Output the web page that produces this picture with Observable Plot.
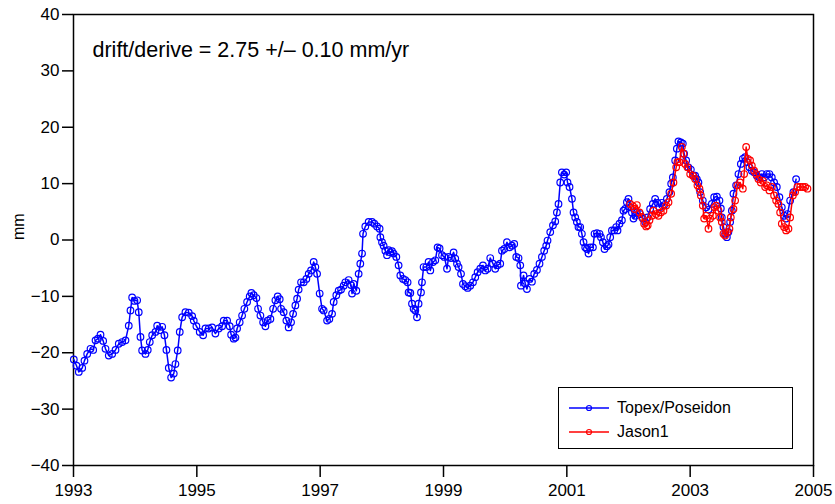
<!DOCTYPE html>
<html><head><meta charset="utf-8">
<script src="https://cdn.jsdelivr.net/npm/d3@7"></script>
<script src="https://cdn.jsdelivr.net/npm/@observablehq/plot@0.6"></script>
<style>
body{margin:0;background:#fff;font-family:"Liberation Sans",Arial,sans-serif;}
#wrap{position:relative;width:835px;height:504px;}
#legend{position:absolute;left:558px;top:387px;width:233px;height:60px;border:1.5px solid #000;background:#fff;font-size:16px;font-family:"Liberation Sans",Arial,sans-serif;}
#legend .row{position:absolute;left:10px;height:20px;display:flex;align-items:center;}
#legend svg{margin-right:8px;}
</style></head><body><div id="wrap"></div>
<script>
const annotation = "drift/derive = 2.75 +/\u2013 0.10 mm/yr";
const seriesNames = ["Topex/Poseidon", "Jason1"];
const seriesColors = ["#0000ff", "#ff0000"];
const xTicks = [1993, 1995, 1997, 1999, 2001, 2003, 2005];
const yTicks = [-40, -30, -20, -10, 0, 10, 20, 30, 40];

const topexYear = [
1993.005,1993.049,1993.086,1993.141,1993.178,1993.222,1993.276,1993.319,1993.357,1993.397,
1993.438,1993.481,1993.519,1993.572,1993.627,1993.681,1993.734,1993.789,1993.843,1993.896,
1993.924,1993.951,1993.989,1994.032,1994.058,1994.086,1994.113,1994.167,1994.204,1994.237,
1994.276,1994.329,1994.357,1994.399,1994.438,1994.475,1994.507,1994.545,1994.583,1994.626,
1994.653,1994.690,1994.723,1994.762,1994.815,1994.869,1994.924,1994.950,1994.993,1995.047,
1995.102,1995.139,1995.193,1995.248,1995.301,1995.355,1995.410,1995.436,1995.491,1995.533,
1995.556,1995.598,1995.626,1995.653,1995.695,1995.734,1995.771,1995.815,1995.857,1995.885,
1995.922,1995.966,1995.993,1996.031,1996.075,1996.112,1996.149,1996.193,1996.237,1996.274,
1996.311,1996.344,1996.366,1996.408,1996.452,1996.489,1996.528,1996.561,1996.598,1996.626,
1996.651,1996.690,1996.733,1996.776,1996.814,1996.852,1996.895,1996.922,1996.950,1996.992,
1997.031,1997.057,1997.112,1997.149,1997.193,1997.219,1997.262,1997.300,1997.339,1997.381,
1997.408,1997.462,1997.501,1997.517,1997.543,1997.587,1997.624,1997.651,1997.679,1997.695,
1997.732,1997.786,1997.841,1997.878,1997.922,1997.964,1997.976,1998.003,1998.029,1998.057,
1998.084,1998.110,1998.138,1998.165,1998.191,1998.235,1998.272,1998.300,1998.344,1998.381,
1998.418,1998.434,1998.462,1998.489,1998.515,1998.543,1998.570,1998.596,1998.635,1998.651,
1998.677,1998.721,1998.758,1998.786,1998.830,1998.867,1998.904,1998.937,1998.976,1999.013,
1999.057,1999.083,1999.121,1999.164,1999.191,1999.219,1999.245,1999.284,1999.316,1999.353,
1999.391,1999.434,1999.478,1999.515,1999.553,1999.596,1999.640,1999.677,1999.715,1999.758,
1999.802,1999.839,1999.877,1999.920,1999.948,1999.985,2000.029,2000.071,2000.110,2000.147,
2000.180,2000.217,2000.245,2000.256,2000.298,2000.326,2000.353,2000.395,2000.434,2000.471,
2000.515,2000.557,2000.596,2000.633,2000.666,2000.687,2000.731,2000.775,2000.812,2000.839,
2000.865,2000.893,2000.920,2000.958,2000.990,2001.011,2001.044,2001.083,2001.109,2001.136,
2001.163,2001.189,2001.217,2001.244,2001.271,2001.298,2001.326,2001.352,2001.379,2001.423,
2001.449,2001.488,2001.530,2001.553,2001.585,2001.611,2001.650,2001.676,2001.703,2001.731,
2001.768,2001.801,2001.822,2001.854,2001.893,2001.919,2001.946,2001.974,2002.000,2002.027,
2002.055,2002.081,2002.108,2002.136,2002.189,2002.233,2002.270,2002.308,2002.351,2002.395,
2002.432,2002.470,2002.502,2002.541,2002.578,2002.622,2002.664,2002.692,2002.719,2002.757,
2002.784,2002.810,2002.849,2002.881,2002.902,2002.935,2002.972,2003.011,2003.053,2003.081,
2003.108,2003.134,2003.162,2003.205,2003.259,2003.297,2003.351,2003.389,2003.433,2003.475,
2003.497,2003.513,2003.540,2003.567,2003.595,2003.620,2003.648,2003.676,2003.702,2003.745,
2003.783,2003.822,2003.854,2003.891,2003.929,2003.961,2004.000,2004.037,2004.081,2004.123,
2004.162,2004.199,2004.243,2004.285,2004.324,2004.361,2004.405,2004.447,2004.486,2004.523,
2004.556,2004.577,2004.621,2004.674,2004.718
];
const topexMm = [
-21.2,-22.3,-23.4,-22.7,-21.4,-20.2,-19.3,-19.5,-17.8,-17.5,
-16.8,-17.9,-19.3,-20.5,-20.2,-19.5,-18.4,-18.1,-17.8,-15.2,
-12.5,-10.2,-10.8,-10.7,-12.8,-17.2,-19.6,-20.2,-19.5,-18.1,
-16.9,-16.3,-15.2,-16.0,-15.4,-16.9,-19.5,-22.7,-24.4,-23.7,
-22.0,-19.6,-16.3,-13.7,-12.8,-12.9,-13.5,-14.3,-15.3,-16.3,
-16.9,-15.7,-15.7,-15.5,-16.6,-15.7,-15.3,-14.3,-14.3,-15.3,
-16.8,-17.5,-17.3,-15.7,-14.6,-13.4,-12.2,-11.0,-10.0,-9.4,
-9.8,-10.3,-12.2,-13.4,-14.6,-15.3,-14.3,-14.0,-12.2,-10.7,
-10.0,-10.5,-12.2,-12.8,-14.3,-15.5,-14.6,-13.1,-11.6,-10.4,
-8.8,-7.5,-7.5,-6.9,-6.0,-5.4,-3.9,-4.8,-6.0,-9.5,
-12.2,-12.5,-14.3,-14.0,-13.1,-11.0,-9.8,-9.0,-8.8,-8.1,
-7.5,-7.1,-8.0,-9.5,-7.8,-9.0,-6.0,-4.2,-2.4,1.1,
2.4,3.2,3.2,2.9,2.4,2.0,0.5,-0.4,-1.0,-1.9,
-2.7,-1.8,-2.2,-2.0,-2.4,-3.0,-4.5,-6.3,-6.9,-7.1,
-7.5,-9.3,-9.4,-11.3,-12.2,-12.5,-13.7,-11.3,-9.3,-7.5,
-4.8,-4.8,-3.9,-5.4,-3.9,-3.6,-1.3,-1.5,-2.7,-3.0,
-5.1,-3.0,-3.2,-2.2,-3.3,-4.2,-4.8,-6.0,-7.8,-8.2,
-8.5,-8.1,-7.5,-6.6,-5.7,-5.1,-4.5,-5.4,-5.1,-3.2,
-4.2,-5.1,-4.5,-4.2,-1.9,-1.6,-0.4,-1.3,-1.0,-0.7,
-3.0,-3.2,-4.5,-8.1,-6.3,-7.7,-8.7,-6.9,-7.4,-6.0,
-5.3,-4.2,-3.0,-1.9,-1.0,-0.1,1.4,2.6,3.3,4.9,
6.4,10.2,12.0,11.6,12.0,10.2,9.4,7.3,4.9,4.0,
3.2,2.3,2.3,1.1,-0.4,-1.3,-1.6,-2.4,-1.3,-1.3,
1.1,1.2,1.1,0.5,-0.4,-1.6,-1.1,-0.8,0.5,1.7,
1.7,2.3,1.7,2.9,3.5,5.2,5.5,6.7,7.3,5.8,
4.9,3.8,4.3,4.9,4.6,3.8,3.2,4.0,5.5,6.4,
7.3,6.6,5.8,6.6,6.2,7.3,8.5,10.0,11.1,14.1,
16.2,17.5,17.3,17.1,15.3,14.1,12.9,12.5,11.4,11.4,
10.8,10.2,8.5,7.0,5.8,5.4,6.4,7.6,7.7,7.0,
5.6,4.0,2.3,1.1,0.5,1.4,3.2,5.2,8.2,9.7,
11.7,13.5,14.4,14.7,13.8,12.9,12.3,12.0,11.4,11.1,
11.7,11.1,11.7,11.7,11.1,10.2,9.4,7.6,5.8,4.3,
3.8,4.6,7.0,8.5,10.8
];

const jasonYear = [
2002.027,2002.071,2002.100,2002.136,2002.178,2002.217,2002.254,2002.287,2002.311,2002.340,
2002.379,2002.405,2002.449,2002.486,2002.525,2002.567,2002.611,2002.649,2002.692,2002.729,
2002.773,2002.794,2002.826,2002.865,2002.892,2002.919,2002.956,2003.000,2003.044,2003.081,
2003.118,2003.151,2003.173,2003.205,2003.227,2003.259,2003.297,2003.324,2003.368,2003.394,
2003.422,2003.459,2003.486,2003.513,2003.540,2003.567,2003.604,2003.637,2003.659,2003.702,
2003.729,2003.767,2003.810,2003.854,2003.875,2003.908,2003.935,2003.972,2004.000,2004.037,
2004.070,2004.107,2004.146,2004.178,2004.216,2004.243,2004.285,2004.324,2004.361,2004.394,
2004.431,2004.459,2004.486,2004.523,2004.556,2004.594,2004.621,2004.665,2004.702,2004.740,
2004.783,2004.827,2004.864,2004.902
];
const jasonMm = [
6.4,6.0,5.5,6.2,4.9,4.1,2.9,2.4,2.6,3.5,
4.3,5.2,4.6,4.3,4.9,5.2,6.1,6.7,8.2,10.2,
12.9,13.8,13.8,16.5,15.3,13.5,12.9,11.7,11.4,10.8,
9.7,9.1,7.9,6.1,3.8,4.3,2.0,3.8,4.3,5.8,
6.1,5.2,4.0,3.2,1.1,0.8,1.4,2.0,4.0,5.5,
7.0,9.7,10.2,9.1,11.7,16.5,14.4,14.1,13.2,12.3,
11.7,10.8,10.2,10.5,9.4,9.7,8.8,9.4,7.9,7.0,
6.4,4.9,2.9,2.3,1.7,2.0,4.0,7.9,8.5,9.4,
9.4,9.4,9.4,9.1
];

const topex = topexYear.map((t, i) => ({t, v: topexMm[i]}));
const jason = jasonYear.map((t, i) => ({t, v: jasonMm[i]}));

const font = "Liberation Sans, Arial, Helvetica, sans-serif";
const chart = Plot.plot({
  width: 835, height: 504,
  marginLeft: 73, marginRight: 22, marginTop: 14, marginBottom: 39,
  style: {fontFamily: font, fontSize: "17px", background: "white", color: "black", overflow: "visible"},
  x: {domain: [1993, 2005]},
  y: {domain: [-40, 40]},
  marks: [
    Plot.frame({stroke: "black", strokeWidth: 1.5}),
    Plot.axisX({ticks: xTicks, tickFormat: d => String(d), tickSize: 12, tickPadding: 6, label: null, strokeWidth: 1.5}),
    Plot.axisY({ticks: yTicks, tickSize: 11, tickPadding: 3, label: null, strokeWidth: 1.5}),
    Plot.text(["mm"], {frameAnchor: "left", dx: -55, rotate: -90, fontSize: 16}),
    Plot.line(topex, {x: "t", y: "v", stroke: seriesColors[0], strokeWidth: 1.5}),
    Plot.dot(topex, {x: "t", y: "v", stroke: seriesColors[0], r: 3.3, strokeWidth: 1.2, fill: "none"}),
    Plot.line(jason, {x: "t", y: "v", stroke: seriesColors[1], strokeWidth: 1.5}),
    Plot.dot(jason, {x: "t", y: "v", stroke: seriesColors[1], r: 3.3, strokeWidth: 1.2, fill: "none"}),
    Plot.text([annotation], {frameAnchor: "top-left", dx: 19, dy: 36, lineAnchor: "middle", textAnchor: "start", fontSize: 21.5})
  ]
});
const wrap = document.getElementById("wrap");
wrap.appendChild(chart);

const legend = document.createElement("div");
legend.id = "legend";
seriesNames.forEach((name, i) => {
  const row = document.createElement("div");
  row.className = "row";
  row.style.top = (10 + i * 24) + "px";
  row.innerHTML = `<svg width="40" height="10"><line x1="0" y1="5" x2="40" y2="5" stroke="${seriesColors[i]}" stroke-width="1.5"/><circle cx="20" cy="5" r="2.5" fill="none" stroke="${seriesColors[i]}" stroke-width="1.2"/></svg><span>${name}</span>`;
  legend.appendChild(row);
});
wrap.appendChild(legend);
</script>
</body></html>
